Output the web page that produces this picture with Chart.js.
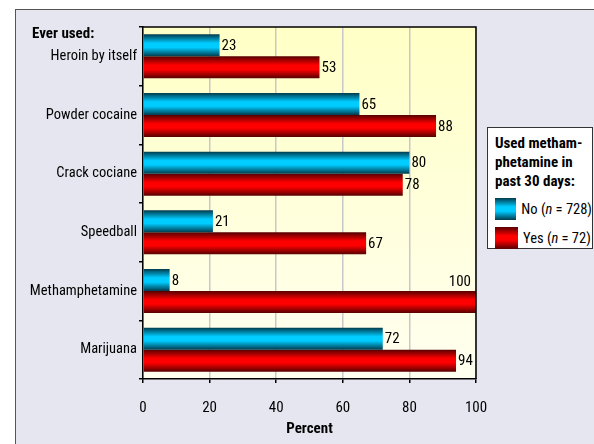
<!DOCTYPE html>
<html>
<head>
<meta charset="utf-8">
<script src="https://cdn.jsdelivr.net/npm/chart.js@4.4.0/dist/chart.umd.min.js"></script>
<style>
  body { margin: 0; background: #fff; font-family: 'Roboto Condensed', 'Liberation Sans Narrow', sans-serif; }
  #frame { position: absolute; left: 15px; top: 9px; width: 579px; height: 435px; background: #e6e6f0;
           border-top: 1.5px solid #555; border-left: 1.5px solid #555; box-sizing: border-box; }
  #chart { position: absolute; left: 0; top: 0; }
  #legend { position: absolute; left: 487px; top: 127px; width: 106px; height: 122px; background: #fff;
            border: 1px solid #333; box-sizing: border-box; padding: 6px 0 0 7px; color: #000; }
  #legend .title { font-weight: bold; font-size: 15px; line-height: 19px; }
  #legend .item { display: flex; align-items: center; font-size: 14.5px; height: 22px; margin-top: 7px; white-space: nowrap; }
  #legend .item:first-of-type { margin-top: 1px; }
  #legend .swatch { display: inline-block; width: 23px; height: 22px; margin-right: 5px; }
</style>
</head>
<body>
<div id="frame"></div>
<canvas id="chart" width="594" height="444"></canvas>
<div id="legend"></div>
<script>
const categories = ['Heroin by itself', 'Powder cocaine', 'Crack cociane', 'Speedball', 'Methamphetamine', 'Marijuana'];
const noValues = [23, 65, 80, 21, 8, 72];
const yesValues = [53, 88, 78, 67, 100, 94];
const seriesNames = ['No', 'Yes'];
const seriesN = [728, 72];
const xTicks = [0, 20, 40, 60, 80, 100];

const FONT = '"Roboto Condensed", "Liberation Sans Narrow", sans-serif';

// dark edge / bright middle pairs for the tube look
const shades = [
  { edge: '#003a4c', mid: '#00ccff' },
  { edge: '#560000', mid: '#ff0000' }
];

function tubeGradient(ctx, top, bottom, shade) {
  const g = ctx.createLinearGradient(0, top, 0, bottom);
  g.addColorStop(0, shade.edge);
  g.addColorStop(0.4, shade.mid);
  g.addColorStop(0.6, shade.mid);
  g.addColorStop(1, shade.edge);
  return g;
}

// legend box
const legend = document.getElementById('legend');
legend.innerHTML = '<div class="title">Used metham-<br>phetamine in<br>past 30 days:</div>' +
  seriesNames.map((name, i) => `<div class="item"><span class="swatch" style="background:linear-gradient(to bottom, ${shades[i].edge}, ${shades[i].mid} 40%, ${shades[i].mid} 60%, ${shades[i].edge})"></span>${name} (<i>n</i>&nbsp;=&nbsp;${seriesN[i]})</div>`).join('');

const plotDecor = {
  id: 'plotDecor',
  beforeDraw(chart) {
    const { ctx, chartArea: a } = chart;
    const g = ctx.createLinearGradient(0, a.top, 0, a.bottom);
    g.addColorStop(0, '#ffffc6');
    g.addColorStop(1, '#fffff0');
    ctx.save();
    ctx.fillStyle = g;
    ctx.fillRect(a.left, a.top, a.right - a.left, a.bottom - a.top);
    ctx.restore();
  },
  beforeDatasetsDraw(chart) {
    const ctx = chart.ctx;
    chart.data.datasets.forEach((ds, d) => {
      chart.getDatasetMeta(d).data.forEach(bar => {
        const { y, height } = bar.getProps(['y', 'height'], true);
        bar.options.backgroundColor = tubeGradient(ctx, y - height / 2, y + height / 2, shades[d]);
      });
    });
  },
  afterDatasetsDraw(chart) {
    const { ctx, chartArea: a } = chart;
    ctx.save();
    ctx.font = '15px ' + FONT;
    ctx.fillStyle = '#000';
    ctx.textBaseline = 'middle';
    chart.data.datasets.forEach((ds, d) => {
      chart.getDatasetMeta(d).data.forEach((bar, i) => {
        const { x, y, height } = bar.getProps(['x', 'y', 'height'], true);
        const text = String(ds.data[i]);
        if (x + 3 + ctx.measureText(text).width > a.right) {
          // no room right of the bar: sit above its end
          ctx.textAlign = 'right';
          ctx.fillText(text, a.right - 5, y - height + 2);
        } else {
          ctx.textAlign = 'left';
          ctx.fillText(text, x + 2, y + 1);
        }
      });
    });
    // top and right edges of the plot
    ctx.strokeStyle = '#000';
    ctx.lineWidth = 1.5;
    ctx.beginPath();
    ctx.moveTo(a.left, a.top);
    ctx.lineTo(a.right, a.top);
    ctx.lineTo(a.right, a.bottom);
    ctx.stroke();
    ctx.font = 'bold 15px ' + FONT;
    ctx.textAlign = 'left';
    ctx.fillText('Ever used:', 32, 34);
    ctx.restore();
  }
};

new Chart(document.getElementById('chart'), {
  type: 'bar',
  data: {
    labels: categories,
    datasets: [
      { label: seriesNames[0], data: noValues, backgroundColor: () => shades[0].mid },
      { label: seriesNames[1], data: yesValues, backgroundColor: () => shades[1].mid }
    ]
  },
  options: {
    indexAxis: 'y',
    responsive: false,
    animation: false,
    layout: { padding: { top: 27, right: 118, left: 0, bottom: 0 } },
    datasets: { bar: { categoryPercentage: 0.75, barPercentage: 1, borderWidth: 0 } },
    plugins: { legend: { display: false }, tooltip: { enabled: false } },
    scales: {
      x: {
        min: 0,
        max: 100,
        afterFit: s => { s.height = 65; },
        afterBuildTicks: s => { s.ticks = xTicks.map(v => ({ value: v })); },
        grid: { color: '#c8c8c8', lineWidth: 1.5, tickColor: '#000', tickLength: 4 },
        border: { color: '#000', width: 1.5 },
        ticks: { color: '#000', padding: 16, font: { size: 15, family: FONT } },
        title: { display: true, text: 'Percent', color: '#000', padding: { top: 0, bottom: 6 },
                 font: { size: 15, weight: 'bold', family: FONT } }
      },
      y: {
        afterFit: s => { s.width = 143; },
        grid: { drawOnChartArea: false, tickColor: '#000', tickLength: 4, lineWidth: 1.5 },
        border: { color: '#000', width: 1.5 },
        ticks: { color: '#000', padding: 2, font: { size: 14.5, family: FONT } }
      }
    }
  },
  plugins: [plotDecor]
});
</script>
</body>
</html>
